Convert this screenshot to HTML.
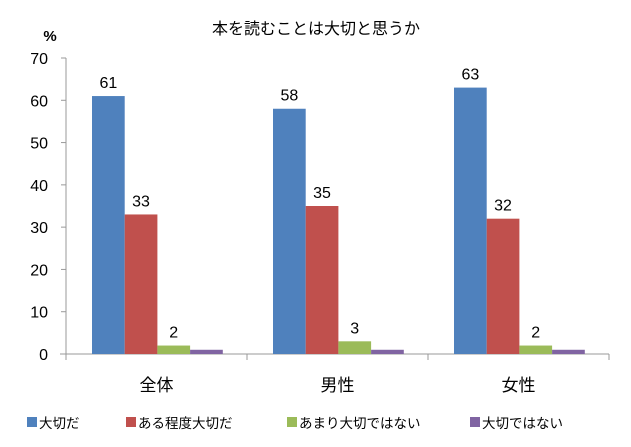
<!DOCTYPE html>
<html><head><meta charset="utf-8"><style>
body{margin:0;background:#fff;}
svg{display:block;font-family:"Liberation Sans","Noto Sans CJK JP",sans-serif;}
</style></head><body>
<svg id="chart" width="631" height="447">
<text x="316" y="34" font-size="16" text-anchor="middle">本を読むことは大切と思うか</text>
<text x="50" y="41" font-size="15" font-weight="bold" text-anchor="middle">%</text>
<g id="axes"></g>
<g id="bars"></g>
<g id="legend"></g>
</svg>
<script>
const categories=["全体","男性","女性"];
const seriesNames=["大切だ","ある程度大切だ","あまり大切ではない","大切ではない"];
const s1=[61,58,63];
const s2=[33,35,32];
const s3=[2,3,2];
const s4=[1,1,1];
const labels1=["61","58","63"];
const labels2=["33","35","32"];
const labels3=["2","3","2"];
const yTicks=[0,10,20,30,40,50,60,70];
const colors=["#4f81bd","#c0504d","#9bbb59","#8064a2"];
const NS="http://www.w3.org/2000/svg";
const x0=66,x1=609,y0=354,yTop=58,yMax=70;
const gw=(x1-x0)/categories.length;
const y=v=>y0-(v/yMax)*(y0-yTop);
function mk(t,a,p){const e=document.createElementNS(NS,t);for(const k in a)e.setAttribute(k,a[k]);p.appendChild(e);return e;}
const ax=document.getElementById('axes');
yTicks.forEach(t=>{
 const tx=mk('text',{x:48,y:y(t)+6,'font-size':16,'text-anchor':'end',fill:'#000'},ax);tx.textContent=t;
 
 
 const l=mk('line',{x1:x0-5,x2:x0,y1:y(t),y2:y(t),stroke:'#999'},ax);
 
 
});
const ya=mk('line',{x1:x0,x2:x0,y1:yTop,y2:y0,stroke:'#999'},ax);


const xa=mk('line',{x1:x0-6,x2:x1,y1:y0,y2:y0,stroke:'#999'},ax);


for(let i=0;i<=categories.length;i++){
 const t=mk('line',{x1:x0+i*gw,x2:x0+i*gw,y1:y0,y2:y0+6,stroke:'#999'},ax);
 
 
}
categories.forEach((c,i)=>{
 const t=mk('text',{x:x0+gw*(i+0.5),y:391,'font-size':17,'text-anchor':'middle'},ax);t.textContent=c;
 
 
});
const bg=document.getElementById('bars');
const series=[s1,s2,s3,s4];const lbls=[labels1,labels2,labels3,null];
const bw=32.7;
categories.forEach((c,i)=>{
 const start=x0+gw*i+26;
 series.forEach((s,j)=>{
  const bx=start+j*bw;
  const r=mk('rect',{x:bx,y:y(s[i]),width:bw,height:y0-y(s[i]),fill:colors[j]},bg);
  
  
  if(lbls[j]){
   const t=mk('text',{x:bx+bw/2,y:y(s[i])-8,'font-size':16,'text-anchor':'middle'},bg);t.textContent=lbls[j][i];
   
   
  }
 });
});
const lg=document.getElementById('legend');
const lx=[27,126,287,470];
seriesNames.forEach((n,j)=>{
 const r=mk('rect',{x:lx[j],y:417,width:10,height:10,fill:colors[j]},lg);
 
 
 const t=mk('text',{x:lx[j]+12,y:428,'font-size':13.5},lg);t.textContent=n;
 
 
});
</script>
</body></html>
